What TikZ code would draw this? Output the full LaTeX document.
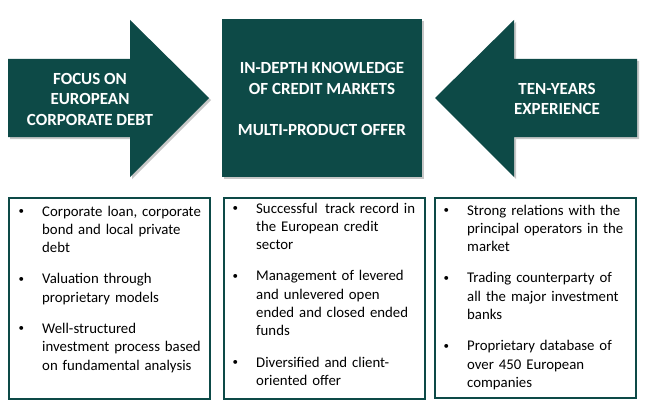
\documentclass[tikz,border=0pt]{standalone}
\usepackage{fontspec}
\setmainfont{Carlito}
\usetikzlibrary{positioning}
\definecolor{petrol}{RGB}{13,74,71}
\newcommand{\bitem}[1]{\noindent\hspace*{22pt}\llap{\raisebox{1.6pt}{\fontsize{11}{11}\selectfont\textbullet}\hspace{18pt}}\begin{tabular}[t]{@{}l@{}}#1\end{tabular}\par}
\newcommand{\bgap}{\vspace{12pt}}

\begin{document}
\begin{tikzpicture}[x=1pt, y=-1pt,
  head/.style={text=white, font=\bfseries\fontsize{17}{20.5}\selectfont, align=center},
  panel/.style={draw=petrol, line width=2pt, minimum width=201pt, minimum height=201pt,
    anchor=north west, inner sep=0pt, outer sep=0pt},
  listtext/.style={anchor=north west, inner sep=0pt, text width=210pt,
    font=\fontsize{14.8}{18.3}\selectfont},
  shade/.style={fill=black, opacity=0.22}]
  \useasboundingbox (0,0) rectangle (650,409);
  % shadows
  \fill[shade, shift={(2,2)}] (8,59) -- (130,59) -- (130,20) -- (209,98) -- (130,177) -- (130,137) -- (8,137) -- cycle;
  \fill[shade, shift={(2,2)}] (222,19) rectangle (422,177);
  \fill[shade, shift={(2,2)}] (637,59) -- (514,59) -- (514,20) -- (435,98) -- (514,177) -- (514,137) -- (637,137) -- cycle;
  % arrows and middle block
  \fill[petrol] (8,59) -- (130,59) -- (130,20) -- (209,98) -- (130,177) -- (130,137) -- (8,137) -- cycle;
  \fill[petrol] (222,19) rectangle (422,177);
  \fill[petrol] (637,59) -- (514,59) -- (514,20) -- (435,98) -- (514,177) -- (514,137) -- (637,137) -- cycle;
  \node (focus) [head] at (90,99) {FOCUS ON\\EUROPEAN\\CORPORATE DEBT};
  \node (know) [head] at (322,99) {IN-DEPTH KNOWLEDGE\\OF CREDIT MARKETS\\[20.5pt]MULTI-PRODUCT OFFER};
  \node (ten) [head] at (557,99) {TEN-YEARS\\EXPERIENCE};
  % bottom panels
  \node (lbox) [panel, minimum height=201pt] at (9,198) {};
  \node (mbox) [panel, minimum height=201pt] at (224,198) {};
  \node (rbox) [panel, minimum height=200pt] at (435,198) {};
  \node (ltext) [listtext] at (20,203) {%
    \bitem{Corporate loan, corporate\\bond and local private\\debt}\bgap
    \bitem{Valuation through\\proprietary models}\bgap
    \bitem{Well-structured\\investment process based\\on fundamental analysis}};
  \node (mtext) [listtext] at (234,200) {%
    \bitem{Successful\, track record in\\the European credit\\sector}\bgap
    \bitem{Management of levered\\and unlevered open\\ended and closed ended\\funds}\bgap
    \bitem{Diversified and client-\\oriented offer}};
  \node (rtext) [listtext] at (445,202) {%
    \bitem{Strong relations with the\\principal operators in the\\market}\bgap
    \bitem{Trading counterparty of\\all the major investment\\banks}\bgap
    \bitem{Proprietary database of\\over 450 European\\companies}};
\end{tikzpicture}
\end{document}
